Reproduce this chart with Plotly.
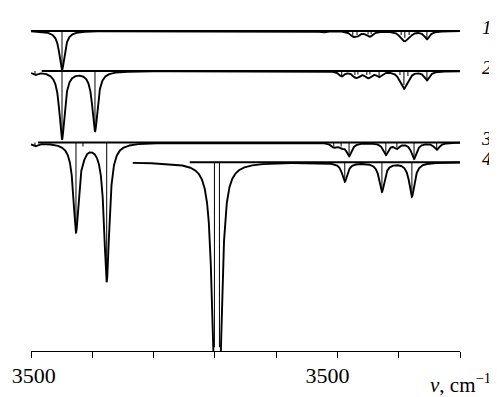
import numpy as np
import plotly.graph_objects as go

# ---- data (x in axis units: 100 units per tick, 0..700) ----
tick_vals = [0, 100, 200, 300, 400, 500, 600, 700]
label_vals = [4.4, 483.7]            # where the two tick labels sit (as in the reference)
label_text = ["3500", "3500"]

labels = ["1", "2", "3", "4"]
baselines = [320.0, 280.0, 208.5, 188.7]        # vertical offsets of the spectra
env_start = [0.0, 0.0, 0.0, 166.0]              # where each envelope begins
base_start = [0.0, 17.5, 11.4, 259.0]           # where each baseline segment begins
x_end = 700.0
hwhm = 5.2                                       # Lorentzian half width

pos1 = [50.6, 476, 525, 532, 550, 555, 604, 610, 617, 646]
int1 = [39, 1.5, 4, 4, 3.5, 3, 4, 7, 4, 8]

pos2 = [6.5, 50.6, 104.4, 507, 528.5, 533.4, 548, 553, 568, 602, 608.5, 615, 646]
int2 = [3, 68, 60, 5, 4, 3.5, 4, 3.5, 5, 4, 14, 5, 9]

pos3 = [6.5, 73.4, 84.8, 123.5, 494, 506, 519, 579, 597, 625, 662]
int3 = [3, 88, 4, 138, 4, 4, 13, 12, 5, 16, 7]

pos4 = [299.3, 307.5, 512, 572.6, 621.5]
int4 = [185, 185, 19, 29, 34]

positions = [pos1, pos2, pos3, pos4]
intensities = [int1, int2, int3, int4]

FONT = "Times New Roman, Liberation Serif, serif"
fig = go.Figure()
black = "#000000"

for k in range(4):
    p = np.array(positions[k], dtype=float)
    a = np.array(intensities[k], dtype=float)
    b = baselines[k]
    # baseline segment
    fig.add_trace(go.Scatter(x=[base_start[k], x_end], y=[b, b], mode="lines",
                             line=dict(color=black, width=1.9), showlegend=False,
                             hoverinfo="skip"))
    # sticks
    sx, sy = [], []
    for pi, ai in zip(p, a):
        sx += [pi, pi, None]
        sy += [b, b - ai, None]
    fig.add_trace(go.Scatter(x=sx, y=sy, mode="lines",
                             line=dict(color=black, width=1.0), showlegend=False,
                             hoverinfo="skip"))
    # Lorentzian envelope
    xs = np.linspace(env_start[k], x_end, 4000)
    ys = b - (a[None, :] * hwhm**2 / ((xs[:, None] - p[None, :])**2 + hwhm**2)).sum(axis=1)
    fig.add_trace(go.Scatter(x=xs, y=ys, mode="lines",
                             line=dict(color=black, width=1.9), showlegend=False,
                             hoverinfo="skip"))

# invisible carrier trace so the label axis is drawn
fig.add_trace(go.Scatter(x=label_vals, y=[baselines[0], baselines[0]], xaxis="x2",
                         mode="markers", marker=dict(size=1, opacity=0),
                         showlegend=False, hoverinfo="skip"))

annotations = []
for k in range(4):
    annotations.append(dict(x=1.079, xref="paper", y=baselines[k] + 4, yref="y",
                            text="<i>%s</i>" % labels[k], showarrow=False,
                            xanchor="right", yanchor="middle",
                            font=dict(family=FONT, size=19, color=black)))
annotations.append(dict(x=1.0, xref="paper", y=-0.096, yref="paper",
                        text="<i>ν</i>, cm<sup>−1</sup>", showarrow=False,
                        xanchor="center", yanchor="middle",
                        font=dict(family=FONT, size=21, color=black)))

fig.update_layout(
    width=489, height=389,
    margin=dict(l=23, r=37, t=0, b=46, autoexpand=False),
    paper_bgcolor="white", plot_bgcolor="white",
    annotations=annotations,
    xaxis=dict(range=[0, 700], showgrid=False, zeroline=False, automargin=False,
               showline=True, linecolor=black, linewidth=1.3,
               ticks="outside", ticklen=6, tickwidth=1.3, tickcolor=black,
               tickmode="array", tickvals=tick_vals, showticklabels=False),
    xaxis2=dict(range=[0, 700], overlaying="x", anchor="y", side="bottom",
                showgrid=False, zeroline=False, automargin=False, showline=False,
                ticks="", tickmode="array", tickvals=label_vals, ticktext=label_text,
                ticklabelstandoff=9,
                tickfont=dict(family=FONT, size=22, color=black)),
    yaxis=dict(range=[0, 343], visible=False, showgrid=False, zeroline=False),
)

fig.write_html("out.html")
